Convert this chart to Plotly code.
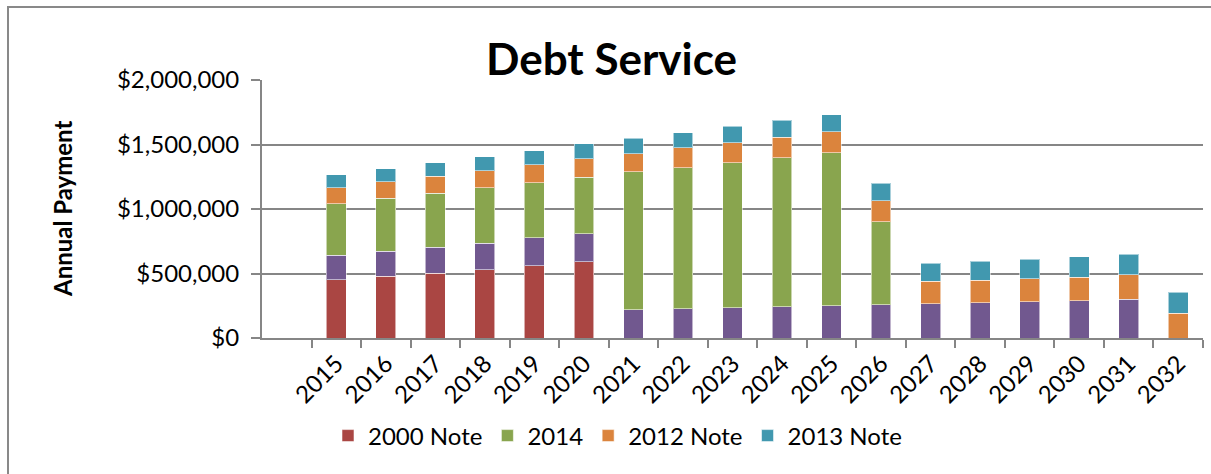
import plotly.graph_objects as go

years = [str(y) for y in range(2015, 2033)]
note2000 = [452000, 480000, 503000, 529000, 560000, 591000] + [None] * 12
other_note = [188000, 191000, 201000, 206000, 217000, 217000,
              220000, 228000, 235000, 243000, 251000, 258000,
              266000, 274000, 282000, 289000, 302000, None]
bond2014 = [400000, 413000, 418000, 429000, 426000, 438000,
            1068000, 1091000, 1125000, 1156000, 1186000, 643000] + [None] * 6
note2012 = [126000, 129000, 132000, 134000, 139000, 143000,
            142000, 155000, 152000, 157000, 161000, 162000,
            173000, 173000, 178000, 183000, 189000, 191000]
note2013 = [101000, 100000, 106000, 108000, 111000, 116000,
            118000, 118000, 129000, 131000, 133000, 137000,
            139000, 147000, 152000, 158000, 159000, 163000]
y_ticks = [0, 500000, 1000000, 1500000, 2000000]
y_labels = ["$0", "$500,000", "$1,000,000", "$1,500,000", "$2,000,000"]

FONT = "Lato"
series = [
    ("2000 Note", note2000, "#AA4643", True),
    ("Other Note", other_note, "#71588F", False),
    ("2014", bond2014, "#89A54E", True),
    ("2012 Note", note2012, "#DB843D", True),
    ("2013 Note", note2013, "#4198AF", True),
]

fig = go.Figure()
for name, vals, color, show in series:
    fig.add_trace(go.Bar(
        x=years, y=vals, name=name, showlegend=show,
        marker=dict(color=color, line=dict(color="rgba(255,255,255,0.55)", width=1)),
    ))

L, R, T, B = 262, 8, 80, 136
W, H = 1211, 474
pw = W - L - R
ph = H - T - B

def px_x(p):
    return (p - L) / pw

def px_y(p):
    return (H - B - p) / ph

fig.update_layout(
    width=W, height=H,
    margin=dict(l=L, r=R, t=T, b=B),
    barmode="stack", bargap=0.6,
    plot_bgcolor="white", paper_bgcolor="white",
    font=dict(family=FONT, size=24, color="black"),
    showlegend=True,
    legend=dict(orientation="h", x=px_x(328), xanchor="left", y=px_y(436), yanchor="middle",
                font=dict(family=FONT, size=24), traceorder="normal",
                itemwidth=30),
    xaxis=dict(
        type="category", categoryorder="array", categoryarray=years,
        range=[-1.5, 17.5], tickson="boundaries",
        ticks="outside", ticklen=8, tickwidth=2, tickcolor="#868686",
        showline=True, linecolor="#868686", linewidth=2,
        showgrid=False, tickangle=-45, tickfont=dict(family=FONT, size=24),
    ),
    yaxis=dict(
        range=[0, 2000000], tickvals=y_ticks, ticktext=y_labels,
        ticks="outside", ticklen=9, tickwidth=2, tickcolor="#868686",
        showline=True, linecolor="#868686", linewidth=2,
        showgrid=True, gridcolor="#868686", gridwidth=2,
        zeroline=False, tickfont=dict(family=FONT, size=24),
        ticklabelstandoff=7,
    ),
    annotations=[
        dict(text="<b>Debt Service</b>", x=px_x(611), y=px_y(58), xref="paper", yref="paper",
             showarrow=False, font=dict(family=FONT, size=44), xanchor="center", yanchor="middle"),
        dict(text="<b>Annual Payment</b>", x=px_x(62), y=px_y(209), xref="paper", yref="paper",
             showarrow=False, textangle=-90, font=dict(family=FONT, size=24),
             xanchor="center", yanchor="middle"),
    ],
    shapes=[
        dict(type="rect", xref="paper", yref="paper",
             x0=px_x(8), x1=px_x(1240), y0=px_y(500), y1=px_y(7),
             line=dict(color="#898989", width=2), layer="below"),
    ],
)

fig.write_html("out.html")
